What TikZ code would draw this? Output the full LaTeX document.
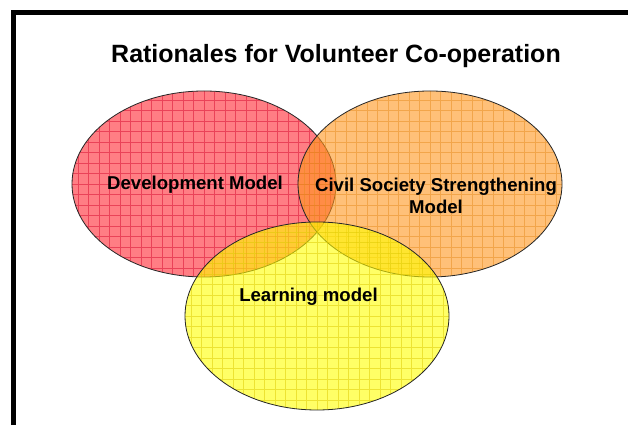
\documentclass[tikz,border=0pt]{standalone}
\usepackage{fontspec}
\setmainfont{Liberation Sans}
\usetikzlibrary{shapes.geometric}
\definecolor{redfill}{RGB}{255,40,50}
\definecolor{redgrid}{RGB}{215,10,45}
\definecolor{orfill}{RGB}{255,150,30}
\definecolor{orgrid}{RGB}{230,140,30}
\definecolor{yefill}{RGB}{255,255,0}
\definecolor{yegrid}{RGB}{220,200,0}
\begin{document}
\begin{tikzpicture}[x=1pt,y=1pt,
  venn/.style={ellipse, draw=black!85, line width=0.8pt, fill opacity=0.6,
    inner sep=0pt, minimum width=264pt, minimum height=186pt},
  gridpic/.style={path picture={\draw[#1, line width=0.6pt, draw opacity=0.5, step=10.5pt]
    (path picture bounding box.south west) grid (path picture bounding box.north east);}},
  lbl/.style={font=\bfseries\fontsize{18.6}{22}\selectfont, align=center, inner sep=0pt, text=black},
  frameline/.style={line width=5pt, line join=miter}
]
\useasboundingbox (0,0) rectangle (628,425);
\fill[white] (0,0) rectangle (628,425);
\draw[frameline] (13,0) -- (13,412) -- (628,412);

\node[venn, fill=redfill, gridpic=redgrid] (dev) at (204,241) {};
\node[venn, fill=orfill, gridpic=orgrid] (civ) at (430,241) {};
\node[venn, fill=yefill, gridpic=yegrid, minimum height=188pt] (lea) at (317,109) {};

\node[lbl, font=\bfseries\fontsize{25}{30}\selectfont] (title) at (336,369) {Rationales for Volunteer Co-operation};
\node[lbl] (devl) at (195,240) {Development Model};
\node[lbl] (civl) at (436,229) {Civil Society Strengthening\\Model};
\node[lbl] (leal) at (308.5,128) {Learning model};
\end{tikzpicture}
\end{document}
